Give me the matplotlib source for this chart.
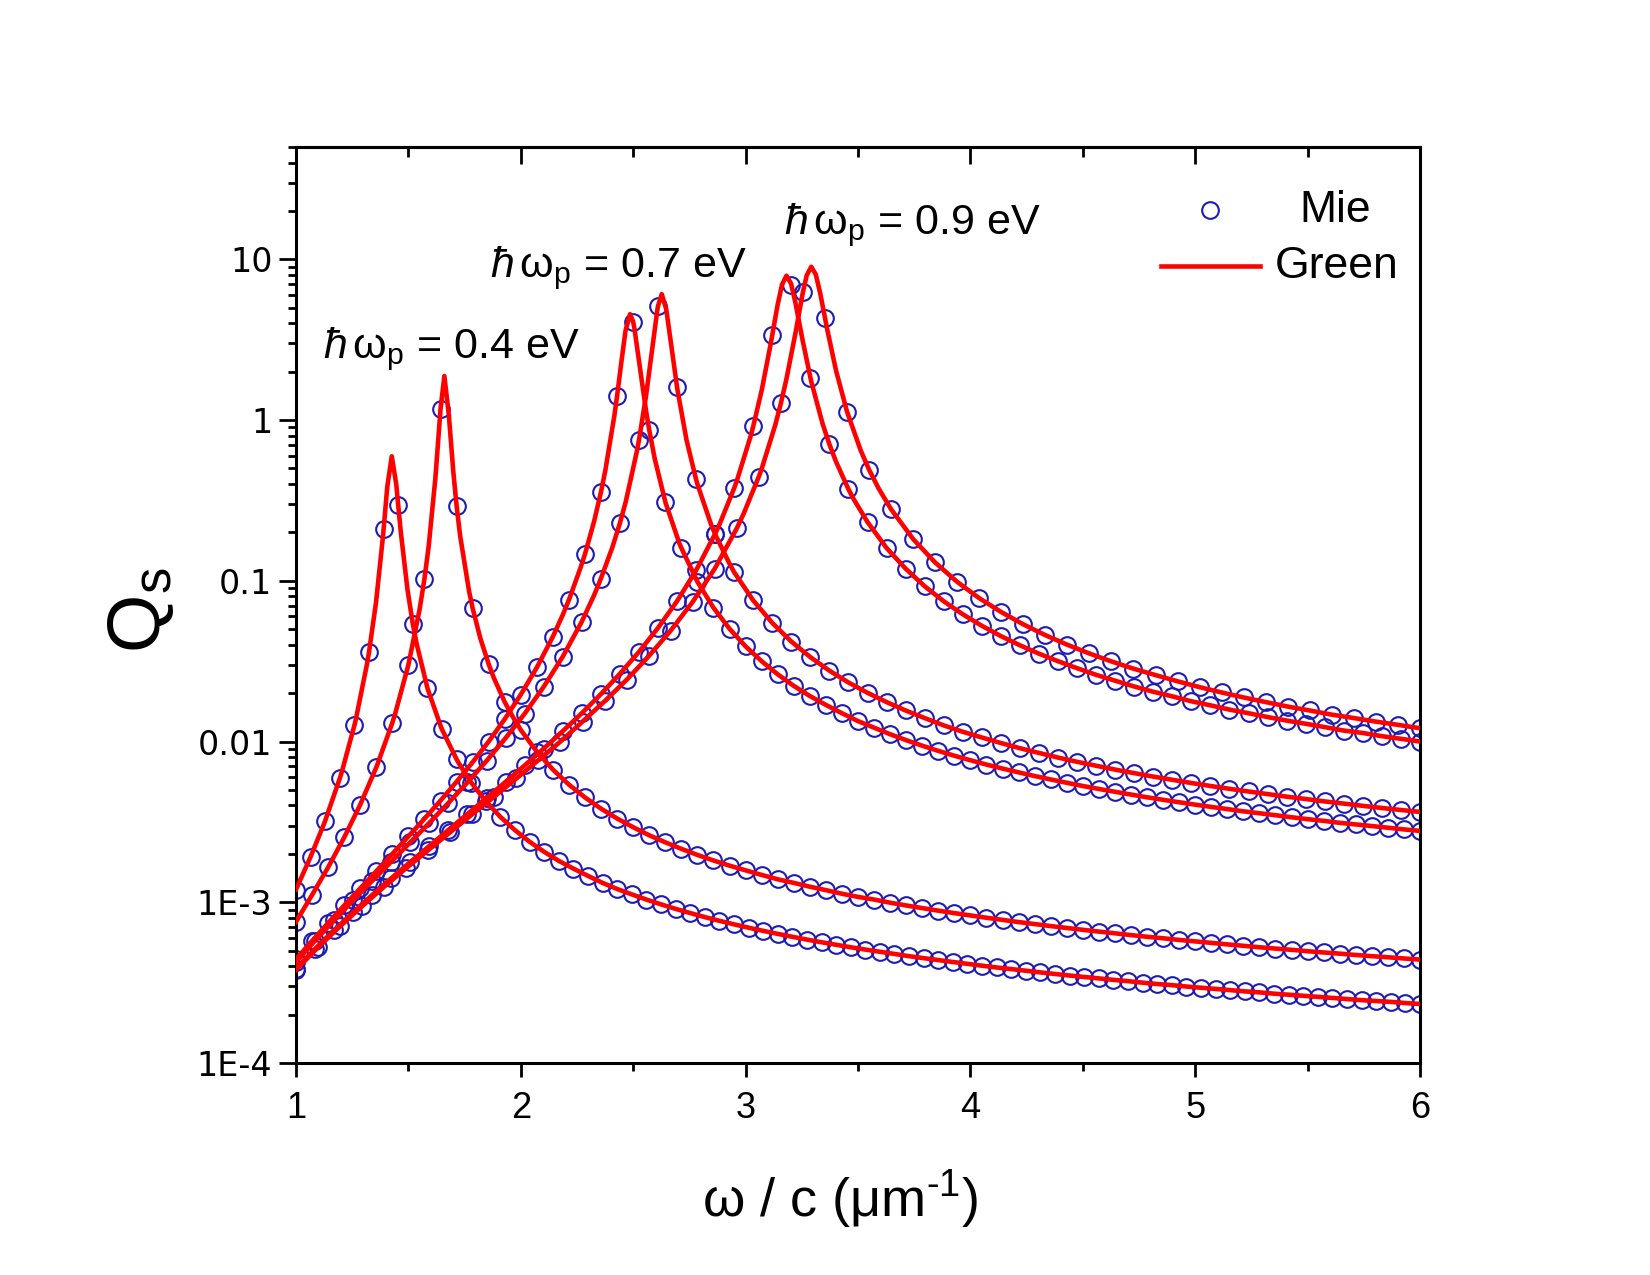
import numpy as np
import matplotlib
matplotlib.use('Agg')
import matplotlib.pyplot as plt
from matplotlib.ticker import LogLocator, NullFormatter

# ---------------- data ----------------
x_range = (1.0, 6.0)          # omega/c range of the Mie samples (um^-1)

# Mie results (circles), evenly spaced samples from 1 to 6
mie_A = [1.20e-3, 1.92e-3, 3.22e-3, 5.90e-3, 1.26e-2, 3.59e-2, 2.09e-1, 2.97e-1, 5.41e-2, 2.16e-2, 1.19e-2, 7.76e-3, 5.56e-3, 4.25e-3, 3.40e-3, 2.81e-3,
         2.38e-3, 2.06e-3, 1.81e-3, 1.62e-3, 1.46e-3, 1.32e-3, 1.21e-3, 1.12e-3, 1.04e-3, 9.71e-4, 9.10e-4, 8.57e-4, 8.09e-4, 7.67e-4, 7.29e-4, 6.95e-4,
         6.64e-4, 6.36e-4, 6.10e-4, 5.86e-4, 5.64e-4, 5.44e-4, 5.25e-4, 5.08e-4, 4.92e-4, 4.77e-4, 4.62e-4, 4.49e-4, 4.37e-4, 4.25e-4, 4.14e-4, 4.03e-4,
         3.93e-4, 3.84e-4, 3.75e-4, 3.66e-4, 3.58e-4, 3.50e-4, 3.43e-4, 3.36e-4, 3.29e-4, 3.23e-4, 3.16e-4, 3.10e-4, 3.05e-4, 2.99e-4, 2.94e-4, 2.89e-4,
         2.84e-4, 2.79e-4, 2.75e-4, 2.70e-4, 2.66e-4, 2.62e-4, 2.58e-4, 2.54e-4, 2.50e-4, 2.46e-4, 2.43e-4, 2.40e-4, 2.36e-4, 2.33e-4]
mie_B = [7.56e-4, 1.11e-3, 1.65e-3, 2.53e-3, 4.05e-3, 6.91e-3, 1.31e-2, 3.00e-2, 1.03e-1, 1.17e0, 2.94e-1, 6.76e-2, 3.03e-2, 1.76e-2, 1.18e-2, 8.64e-3,
         6.69e-3, 5.39e-3, 4.49e-3, 3.82e-3, 3.32e-3, 2.93e-3, 2.61e-3, 2.36e-3, 2.15e-3, 1.97e-3, 1.82e-3, 1.69e-3, 1.58e-3, 1.48e-3, 1.39e-3, 1.32e-3,
         1.25e-3, 1.19e-3, 1.13e-3, 1.08e-3, 1.04e-3, 9.94e-4, 9.55e-4, 9.20e-4, 8.87e-4, 8.56e-4, 8.28e-4, 8.01e-4, 7.77e-4, 7.53e-4, 7.32e-4, 7.11e-4,
         6.92e-4, 6.74e-4, 6.57e-4, 6.41e-4, 6.25e-4, 6.10e-4, 5.97e-4, 5.83e-4, 5.71e-4, 5.59e-4, 5.47e-4, 5.36e-4, 5.25e-4, 5.15e-4, 5.06e-4, 4.96e-4,
         4.87e-4, 4.79e-4, 4.70e-4, 4.62e-4, 4.55e-4, 4.47e-4, 4.40e-4]
mie_C = [4.42e-4, 5.75e-4, 7.43e-4, 9.55e-4, 1.22e-3, 1.56e-3, 2.00e-3, 2.57e-3, 3.31e-3, 4.29e-3, 5.62e-3, 7.44e-3, 1.00e-2, 1.38e-2, 1.96e-2, 2.89e-2,
         4.50e-2, 7.62e-2, 1.47e-1, 3.59e-1, 1.42e0, 4.08e0, 8.65e-1, 3.10e-1, 1.60e-1, 9.87e-2, 6.80e-2, 5.03e-2, 3.91e-2, 3.16e-2, 2.62e-2, 2.22e-2,
         1.92e-2, 1.69e-2, 1.50e-2, 1.34e-2, 1.22e-2, 1.11e-2, 1.02e-2, 9.42e-3, 8.75e-3, 8.16e-3, 7.65e-3, 7.19e-3, 6.79e-3, 6.43e-3, 6.10e-3, 5.81e-3,
         5.54e-3, 5.29e-3, 5.07e-3, 4.87e-3, 4.68e-3, 4.50e-3, 4.34e-3, 4.19e-3, 4.05e-3, 3.92e-3, 3.80e-3, 3.68e-3, 3.58e-3, 3.48e-3, 3.38e-3, 3.29e-3,
         3.21e-3, 3.12e-3, 3.05e-3, 2.98e-3, 2.91e-3, 2.84e-3, 2.78e-3]
mie_D = [4.26e-4, 5.77e-4, 7.72e-4, 1.03e-3, 1.36e-3, 1.79e-3, 2.36e-3, 3.12e-3, 4.15e-3, 5.57e-3, 7.58e-3, 1.05e-2, 1.49e-2, 2.19e-2, 3.37e-2, 5.57e-2,
         1.03e-1, 2.28e-1, 7.47e-1, 5.11e0, 1.61e0, 4.28e-1, 1.95e-1, 1.13e-1, 7.55e-2, 5.47e-2, 4.19e-2, 3.35e-2, 2.76e-2, 2.33e-2, 2.01e-2, 1.76e-2,
         1.56e-2, 1.40e-2, 1.26e-2, 1.15e-2, 1.06e-2, 9.79e-3, 9.09e-3, 8.49e-3, 7.95e-3, 7.48e-3, 7.07e-3, 6.69e-3, 6.36e-3, 6.05e-3, 5.78e-3, 5.52e-3,
         5.29e-3, 5.08e-3, 4.89e-3, 4.71e-3, 4.54e-3, 4.39e-3, 4.24e-3, 4.11e-3, 3.98e-3, 3.86e-3, 3.75e-3, 3.65e-3]
mie_E = [3.87e-4, 5.13e-4, 6.70e-4, 8.66e-4, 1.11e-3, 1.41e-3, 1.78e-3, 2.24e-3, 2.82e-3, 3.54e-3, 4.45e-3, 5.61e-3, 7.10e-3, 9.04e-3, 1.16e-2, 1.50e-2,
         1.97e-2, 2.64e-2, 3.61e-2, 5.09e-2, 7.47e-2, 1.16e-1, 1.96e-1, 3.77e-1, 9.14e-1, 3.38e0, 6.96e0, 1.84e0, 7.06e-1, 3.71e-1, 2.32e-1, 1.60e-1,
         1.19e-1, 9.25e-2, 7.46e-2, 6.19e-2, 5.25e-2, 4.53e-2, 3.97e-2, 3.52e-2, 3.16e-2, 2.86e-2, 2.60e-2, 2.39e-2, 2.20e-2, 2.04e-2, 1.91e-2, 1.78e-2,
         1.68e-2, 1.58e-2, 1.50e-2, 1.42e-2, 1.35e-2, 1.29e-2, 1.23e-2, 1.17e-2, 1.13e-2, 1.08e-2, 1.04e-2, 1.00e-2]
mie_F = [3.80e-4, 5.24e-4, 7.09e-4, 9.45e-4, 1.25e-3, 1.63e-3, 2.11e-3, 2.73e-3, 3.53e-3, 4.55e-3, 5.89e-3, 7.66e-3, 1.00e-2, 1.33e-2, 1.78e-2, 2.42e-2,
         3.39e-2, 4.90e-2, 7.40e-2, 1.19e-1, 2.12e-1, 4.45e-1, 1.27e0, 6.25e0, 4.34e0, 1.13e0, 4.92e-1, 2.79e-1, 1.82e-1, 1.30e-1, 9.85e-2, 7.80e-2,
         6.39e-2, 5.36e-2, 4.59e-2, 4.00e-2, 3.53e-2, 3.15e-2, 2.84e-2, 2.59e-2, 2.37e-2, 2.18e-2, 2.02e-2, 1.88e-2, 1.76e-2, 1.65e-2, 1.56e-2, 1.47e-2,
         1.40e-2, 1.33e-2, 1.27e-2, 1.21e-2]

# Green-function results (lines): extra samples around each resonance
green_pk_x_A = [1.126, 1.206, 1.266, 1.316, 1.356, 1.386, 1.406, 1.426, 1.446, 1.466, 1.496, 1.536, 1.586, 1.646, 1.726]
green_pk_y_A = [3.11e-3, 6.64e-3, 1.37e-2, 3.04e-2, 7.34e-2, 1.84e-1, 3.84e-1, 5.95e-1, 3.98e-1, 2.02e-1, 8.80e-2, 4.09e-2, 2.12e-2, 1.22e-2, 7.26e-3]
green_pk_x_B = [1.36, 1.44, 1.50, 1.55, 1.59, 1.62, 1.64, 1.66, 1.68, 1.70, 1.73, 1.77, 1.82, 1.88, 1.96]
green_pk_y_B = [7.07e-3, 1.47e-2, 3.00e-2, 6.65e-2, 1.63e-1, 4.35e-1, 1.03e0, 1.88e0, 1.07e0, 4.73e-1, 1.91e-1, 8.60e-2, 4.39e-2, 2.49e-2, 1.46e-2]
green_pk_x_C = [2.186, 2.266, 2.326, 2.376, 2.416, 2.446, 2.466, 2.486, 2.506, 2.526, 2.556, 2.596, 2.646, 2.706, 2.786]
green_pk_y_C = [6.11e-2, 1.21e-1, 2.34e-1, 4.86e-1, 1.06e0, 2.22e0, 3.61e0, 4.56e0, 3.68e0, 2.32e0, 1.17e0, 5.73e-1, 3.00e-1, 1.70e-1, 9.85e-2]
green_pk_x_D = [2.327, 2.407, 2.467, 2.517, 2.557, 2.587, 2.607, 2.627, 2.647, 2.667, 2.697, 2.737, 2.787, 2.847, 2.927]
green_pk_y_D = [8.19e-2, 1.61e-1, 3.11e-1, 6.45e-1, 1.41e0, 2.94e0, 4.80e0, 6.08e0, 4.89e0, 3.08e0, 1.54e0, 7.54e-1, 3.94e-1, 2.23e-1, 1.29e-1]
green_pk_x_E = [2.882, 2.962, 3.022, 3.072, 3.112, 3.142, 3.162, 3.182, 3.202, 3.222, 3.252, 3.292, 3.342, 3.402, 3.482]
green_pk_y_E = [2.21e-1, 4.23e-1, 7.91e-1, 1.54e0, 3.00e0, 5.17e0, 6.97e0, 7.91e0, 7.07e0, 5.34e0, 3.22e0, 1.74e0, 9.54e-1, 5.52e-1, 3.20e-1]
green_pk_x_F = [2.992, 3.072, 3.132, 3.182, 3.222, 3.252, 3.272, 3.292, 3.312, 3.332, 3.362, 3.402, 3.452, 3.512, 3.592]
green_pk_y_F = [2.63e-1, 5.00e-1, 9.32e-1, 1.81e0, 3.49e0, 5.95e0, 7.96e0, 8.99e0, 8.07e0, 6.14e0, 3.73e0, 2.04e0, 1.12e0, 6.47e-1, 3.75e-1]

annotations = [(1.120, 2.44, '0.4'), (1.863, 7.72, '0.7'), (3.169, 14.4, '0.9')]
x_ticks = [1, 2, 3, 4, 5, 6]
x_minor = [1.5, 2.5, 3.5, 4.5, 5.5]
y_ticks = [1e-4, 1e-3, 1e-2, 0.1, 1, 10]
y_labels = ['1E-4', '1E-3', '0.01', '0.1', '1', '10']

# ---------------- style ----------------
plt.rcParams['font.family'] = ['Liberation Sans', 'DejaVu Sans']
plt.rcParams['mathtext.fontset'] = 'custom'
plt.rcParams['mathtext.rm'] = 'Liberation Sans'
plt.rcParams['mathtext.it'] = 'Liberation Sans:italic'
plt.rcParams['mathtext.bf'] = 'Liberation Sans:bold'
plt.rcParams['axes.unicode_minus'] = False

blue = '#1c1cb4'
red = '#ff0000'
mk = dict(marker='o', ls='none', mfc='none', mec=blue, ms=12, mew=1.5)

fig = plt.figure(figsize=(16.5, 12.75), dpi=100)
ax = fig.add_axes([296/1650, 1 - 1063/1275, 1124/1650, 916/1275])

curves = [
    (mie_A, green_pk_x_A, green_pk_y_A),
    (mie_B, green_pk_x_B, green_pk_y_B),
    (mie_C, green_pk_x_C, green_pk_y_C),
    (mie_D, green_pk_x_D, green_pk_y_D),
    (mie_E, green_pk_x_E, green_pk_y_E),
    (mie_F, green_pk_x_F, green_pk_y_F),
]
for mie_y, pkx, pky in curves:
    mx = np.linspace(x_range[0], x_range[1], len(mie_y))
    ax.plot(mx, mie_y, zorder=2, **mk)
    lx = np.concatenate([mx, pkx])
    ly = np.concatenate([mie_y, pky])
    order = np.argsort(lx, kind='stable')
    ax.plot(lx[order], ly[order], '-', color=red, lw=3.3, zorder=3)

ax.set_yscale('log')
ax.set_xlim(*x_range)
ax.set_ylim(1e-4, 50)
ax.set_xticks(x_ticks)
ax.set_xticklabels([str(t) for t in x_ticks])
ax.set_xticks(x_minor, minor=True)
ax.set_yticks(y_ticks)
ax.set_yticklabels(y_labels)
ax.yaxis.set_minor_locator(LogLocator(base=10, subs=np.arange(2, 10), numticks=30))
ax.yaxis.set_minor_formatter(NullFormatter())
for sp in ax.spines.values():
    sp.set_linewidth(2.2)
ax.tick_params(axis='x', which='both', bottom=True, top=False, direction='out', width=2.0)
ax.tick_params(axis='x', which='major', length=10, pad=10)
ax.tick_params(axis='x', which='minor', length=6)
ax.tick_params(axis='y', which='both', left=True, right=False, direction='out', width=2.0)
ax.tick_params(axis='y', which='major', length=12, pad=5)
ax.tick_params(axis='y', which='minor', length=6)
for lab in ax.get_xticklabels():
    lab.set_fontfamily(['Liberation Sans Narrow', 'Liberation Sans'])
    lab.set_fontsize(26)
for lab in ax.get_yticklabels():
    lab.set_fontfamily(['DejaVu Sans', 'Liberation Sans'])
    lab.set_fontsize(24)

sec = ax.secondary_xaxis('top')
sec.set_xticks(x_ticks)
sec.set_xticks(x_minor, minor=True)
sec.tick_params(axis='x', which='both', direction='in', labeltop=False, width=2.0)
sec.tick_params(axis='x', which='major', length=12)
sec.tick_params(axis='x', which='minor', length=7)
sec.spines['top'].set_linewidth(2.2)

ax.text(0.484, -0.1496, 'ω / c (μm$^{\\mathregular{\u2010}1}$)', transform=ax.transAxes,
        ha='center', va='center', fontsize=39)
ax.text(-0.138, 0.4945, r'Q$_\mathregular{s}$', transform=ax.transAxes, rotation=90,
        ha='center', va='center', fontsize=54)

for x, y, v in annotations:
    ax.text(x, y, r'$\mathit{ħ}\,\mathregular{ω}_{\mathregular{p}}$ = ' + v + ' eV',
            fontsize=31, ha='left', va='baseline')

# legend
ax.plot([0.813], [0.931], transform=ax.transAxes, clip_on=False, **mk)
ax.text(0.893, 0.931, 'Mie', transform=ax.transAxes, fontsize=32, ha='left', va='center')
ax.plot([0.770, 0.858], [0.870, 0.870], '-', color=red, lw=3.3,
        transform=ax.transAxes, clip_on=False)
ax.text(0.871, 0.870, 'Green', transform=ax.transAxes, fontsize=32, ha='left', va='center')

fig.savefig('out.png', dpi=100)
